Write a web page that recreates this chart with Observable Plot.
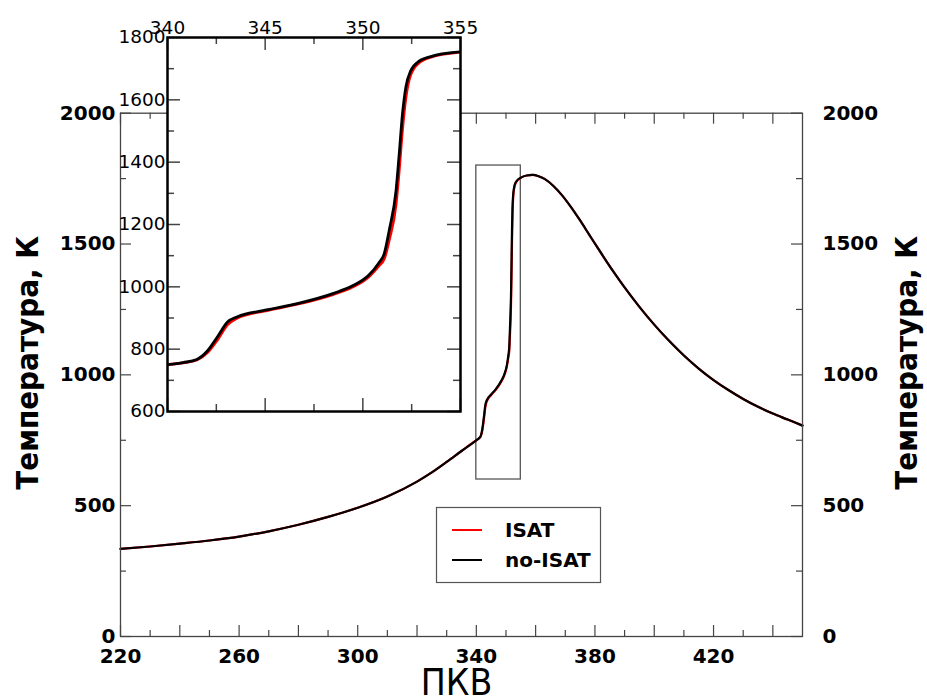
<!DOCTYPE html>
<html>
<head>
<meta charset="utf-8">
<script src="https://cdn.jsdelivr.net/npm/d3@7"></script>
<script src="https://cdn.jsdelivr.net/npm/@observablehq/plot@0.6"></script>
<style>
  html, body { margin: 0; padding: 0; background: white; }
  #wrap { position: relative; width: 927px; height: 697px; overflow: hidden; font-family: "DejaVu Sans", sans-serif; }
  #wrap svg { overflow: visible; }
  #main { position: absolute; left: 0; top: 0; }
  #inset { position: absolute; left: 107px; top: 7px; }
  #legend { position: absolute; left: 436px; top: 507px; }
</style>
</head>
<body>
<div id="wrap">
  <div id="main"></div>
  <div id="inset"></div>
  <div id="legend"></div>
</div>
<script>
// ---- data (crank angle, temperature K) ----
const cad = [220, 230, 240, 250, 260, 270, 280, 290, 300, 310, 320, 325, 330, 335, 340, 340.8, 341.5, 342.05, 342.56, 343.07, 343.58, 345, 346.7, 348.5, 349.5, 350.3, 350.8, 351.1, 351.35, 351.7, 351.85, 352.03, 352.2, 352.45, 352.9, 353.6, 355, 357, 359, 361, 363, 366, 369, 372, 375, 378, 381, 384, 387, 390, 395, 400, 405, 410, 415, 420, 425, 430, 435, 440, 445, 450];
const tNoIsat = [335, 344, 355, 367, 382, 402, 427, 457, 492, 535, 592, 627, 667, 709, 750, 757, 767, 795, 840, 887, 904, 925, 947, 979, 1004, 1037, 1075, 1107, 1181, 1309, 1416, 1555, 1640, 1693, 1725, 1741, 1754, 1762, 1764, 1759, 1749, 1722, 1685, 1640, 1590, 1537, 1484, 1432, 1382, 1334, 1260, 1192, 1130, 1074, 1024, 980, 942, 908, 878, 852, 829, 806];
const tIsat = [335, 344, 355, 367, 382, 402, 427, 457, 492, 535, 592, 627, 667, 709, 750, 756, 765, 789, 830, 878, 900, 923, 945, 976, 1000, 1032, 1066, 1090, 1150, 1265, 1365, 1505, 1605, 1680, 1720, 1739, 1753, 1762, 1764, 1759, 1749, 1722, 1685, 1640, 1590, 1537, 1484, 1432, 1382, 1334, 1260, 1192, 1130, 1074, 1024, 980, 942, 908, 878, 852, 829, 806];

// tick labels
const mainXLabels = [220, 260, 300, 340, 380, 420];
const mainXMajor = [220, 240, 260, 280, 300, 320, 340, 360, 380, 400, 420, 440];
const mainXMinor = [230, 250, 270, 290, 310, 330, 350, 370, 390, 410, 430];
const mainYLabels = [0, 500, 1000, 1500, 2000];
const mainYMinor = [250, 750, 1250, 1750];
const insetXLabels = [340, 345, 350, 355];
const insetXMinor = [342.5, 347.5, 352.5];
const insetYLabels = [600, 800, 1000, 1200, 1400, 1600, 1800];
const insetYMinor = [700, 900, 1100, 1300, 1500, 1700];
const zoomBox = [{x1: 340, x2: 355, y1: 600, y2: 1800}];
const legendItems = [{name: "ISAT", color: "red"}, {name: "no-ISAT", color: "black"}];

const isat = cad.map((c, i) => ({cad: c, T: tIsat[i]}));
const noIsat = cad.map((c, i) => ({cad: c, T: tNoIsat[i]}));
const fmt = d => String(d);
const condensed = "'DejaVu Sans Condensed', 'DejaVu Sans', sans-serif";

// ---- main chart ----
const W = 927, H = 697;
const mL = 120, mR = 125, mT = 112.7, mB = 61;
const pH = H - mT - mB, pW = W - mL - mR;
const tc = "#444";
const majLen = 11, minLen = 6;

const main = Plot.plot({
  width: W, height: H,
  marginLeft: mL, marginRight: mR, marginTop: mT, marginBottom: mB,
  x: {domain: [220, 450]},
  y: {domain: [0, 2000]},
  style: {fontFamily: "DejaVu Sans", color: "black", background: "transparent"},
  marks: [
    Plot.rect(zoomBox, {x1: "x1", x2: "x2", y1: "y1", y2: "y2", fill: "none", stroke: "#555", strokeWidth: 1.3}),
    Plot.line(isat, {x: "cad", y: "T", stroke: "red", strokeWidth: 2.2, curve: "monotone-x"}),
    Plot.line(noIsat, {x: "cad", y: "T", stroke: "black", strokeWidth: 2.2, curve: "monotone-x"}),
    // ticks (inward, mirrored)
    Plot.tickX(mainXMajor, {x: d => d, insetTop: pH - majLen, stroke: tc, strokeWidth: 1.2}),
    Plot.tickX(mainXMinor, {x: d => d, insetTop: pH - minLen, stroke: tc, strokeWidth: 1.2}),
    Plot.tickX(mainXMajor, {x: d => d, insetBottom: pH - majLen, stroke: tc, strokeWidth: 1.2}),
    Plot.tickX(mainXMinor, {x: d => d, insetBottom: pH - minLen, stroke: tc, strokeWidth: 1.2}),
    Plot.tickY(mainYLabels, {y: d => d, insetRight: pW - majLen, stroke: tc, strokeWidth: 1.2}),
    Plot.tickY(mainYMinor, {y: d => d, insetRight: pW - minLen, stroke: tc, strokeWidth: 1.2}),
    Plot.tickY(mainYLabels, {y: d => d, insetLeft: pW - majLen, stroke: tc, strokeWidth: 1.2}),
    Plot.tickY(mainYMinor, {y: d => d, insetLeft: pW - minLen, stroke: tc, strokeWidth: 1.2}),
    Plot.frame({stroke: tc, strokeWidth: 1.3}),
    Plot.axisX(mainXLabels, {anchor: "bottom", tickSize: 0, tickPadding: 12, fontSize: 20, fontWeight: "bold", label: null, tickFormat: fmt}),
    Plot.axisY(mainYLabels, {anchor: "left", tickSize: 0, tickPadding: 5, fontSize: 20, fontWeight: "bold", label: null, tickFormat: fmt}),
    Plot.axisY(mainYLabels, {anchor: "right", tickSize: 0, tickPadding: 20, fontSize: 20, fontWeight: "bold", label: null, tickFormat: fmt}),
    Plot.text(["ПКВ"], {frameAnchor: "bottom", dy: 58, fontSize: 37, fontFamily: condensed, fill: "black", textAnchor: "middle", dx: -5}),
    Plot.text(["Температура, К"], {frameAnchor: "left", textAnchor: "middle", dx: -92, dy: -12, rotate: -90, fontSize: 31, fontWeight: "bold", fontFamily: condensed, fill: "black"}),
    Plot.text(["Температура, К"], {frameAnchor: "right", textAnchor: "middle", dx: 105, dy: -12, rotate: -90, fontSize: 31, fontWeight: "bold", fontFamily: condensed, fill: "black"})
  ]
});
document.getElementById("main").appendChild(main);

// ---- inset ----
const iL = 60, iR = 20, iT = 30, iB = 10;
const iW = 293, iH = 374;
const iMaj = 13, iMin = 7;
const inset = Plot.plot({
  width: iL + iW + iR, height: iT + iH + iB,
  marginLeft: iL, marginRight: iR, marginTop: iT, marginBottom: iB,
  x: {domain: [340, 355]},
  y: {domain: [600, 1800]},
  style: {fontFamily: "DejaVu Sans", color: "black", background: "transparent"},
  marks: [
    Plot.frame({fill: "white", stroke: "none"}),
    Plot.line(isat, {x: "cad", y: "T", stroke: "red", strokeWidth: 2.8, curve: "monotone-x", clip: true}),
    Plot.line(noIsat, {x: "cad", y: "T", stroke: "black", strokeWidth: 2.8, curve: "monotone-x", clip: true}),
    Plot.tickX(insetXLabels, {x: d => d, insetTop: iH - iMaj, stroke: tc, strokeWidth: 1.5}),
    Plot.tickX(insetXMinor, {x: d => d, insetTop: iH - iMin, stroke: tc, strokeWidth: 1.5}),
    Plot.tickX(insetXLabels, {x: d => d, insetBottom: iH - iMaj, stroke: tc, strokeWidth: 1.5}),
    Plot.tickX(insetXMinor, {x: d => d, insetBottom: iH - iMin, stroke: tc, strokeWidth: 1.5}),
    Plot.tickY(insetYLabels, {y: d => d, insetRight: iW - iMaj, stroke: tc, strokeWidth: 1.5}),
    Plot.tickY(insetYMinor, {y: d => d, insetRight: iW - iMin, stroke: tc, strokeWidth: 1.5}),
    Plot.tickY(insetYLabels, {y: d => d, insetLeft: iW - iMaj, stroke: tc, strokeWidth: 1.5}),
    Plot.tickY(insetYMinor, {y: d => d, insetLeft: iW - iMin, stroke: tc, strokeWidth: 1.5}),
    Plot.frame({stroke: "black", strokeWidth: 2.5}),
    Plot.axisX(insetXLabels, {anchor: "top", tickSize: 0, tickPadding: 4, fontSize: 18.5, label: null, tickFormat: fmt}),
    Plot.axisY(insetYLabels, {anchor: "left", tickSize: 0, tickPadding: 2, fontSize: 18.5, label: null, tickFormat: fmt})
  ]
});
document.getElementById("inset").appendChild(inset);

// ---- legend ----
const ns = "http://www.w3.org/2000/svg";
const lg = document.createElementNS(ns, "svg");
lg.setAttribute("width", 165); lg.setAttribute("height", 76);
const box = document.createElementNS(ns, "rect");
box.setAttribute("x", 0.5); box.setAttribute("y", 0.5); box.setAttribute("width", 164); box.setAttribute("height", 75);
box.setAttribute("fill", "white"); box.setAttribute("stroke", "#555"); box.setAttribute("stroke-width", 1.2);
lg.appendChild(box);
legendItems.forEach((it, i) => {
  const y = 23 + i * 30;
  const ln = document.createElementNS(ns, "line");
  ln.setAttribute("x1", 16); ln.setAttribute("x2", 46); ln.setAttribute("y1", y); ln.setAttribute("y2", y);
  ln.setAttribute("stroke", it.color); ln.setAttribute("stroke-width", 2);
  lg.appendChild(ln);
  const tx = document.createElementNS(ns, "text");
  tx.setAttribute("x", 69); tx.setAttribute("y", y + 7);
  tx.setAttribute("font-family", "DejaVu Sans"); tx.setAttribute("font-weight", "bold"); tx.setAttribute("font-size", 20);
  tx.textContent = it.name;
  lg.appendChild(tx);
});
document.getElementById("legend").appendChild(lg);
</script>
</body>
</html>
